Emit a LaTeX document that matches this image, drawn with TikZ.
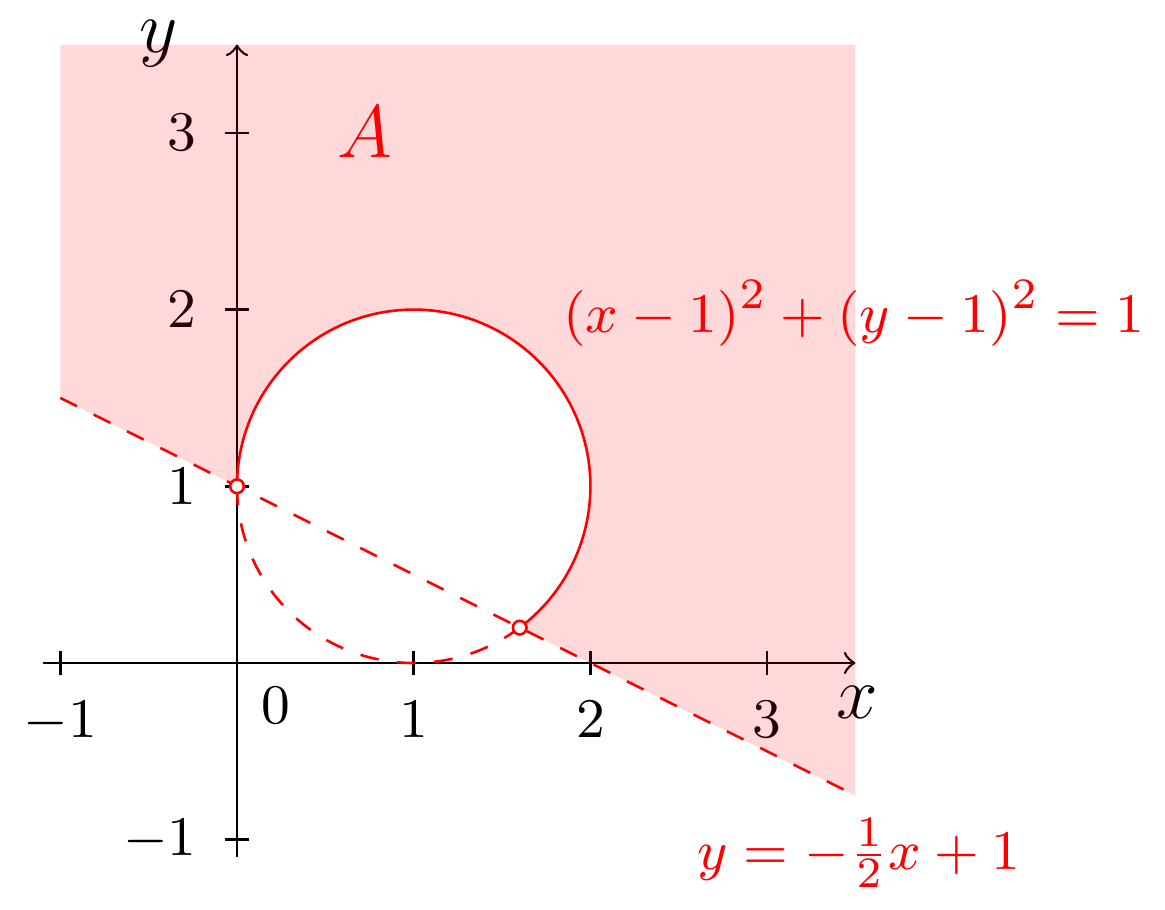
\documentclass[tikz,border=0pt]{standalone}
\begin{document}
\begin{tikzpicture}[x=1cm,y=1cm,
  axis/.style={black, line width=0.42pt},
  tickmark/.style={black, line width=0.42pt},
  ticklab/.style={font=\fontsize{9.3}{11}\selectfont, inner sep=0pt},
  axlab/.style={font=\fontsize{12}{14}\selectfont, inner sep=0pt},
  curve/.style={red, line width=0.42pt},
  dashcurve/.style={red, line width=0.42pt, dashed},
  dot/.style={circle, draw=red, fill=white, line width=0.42pt, minimum size=2.2pt, inner sep=0pt},
  eqlab/.style={red, font=\fontsize{9.3}{11}\selectfont, inner sep=0pt},
  region/.style={fill=red, fill opacity=0.15, even odd rule}]
\useasboundingbox (-1.3413,-1.3978) rectangle (5.2518,3.7521);

% axes
\coordinate (xs) at (-1.1,0);
\coordinate (xe) at (3.5,0);
\coordinate (ys) at (0,-1.1);
\coordinate (ye) at (0,3.5);
\draw[axis,->] (xs) -- (xe);
\draw[axis,->] (ys) -- (ye);
\foreach \t in {-1,1,2,3} {
  \draw[tickmark] (\t,-0.07) -- (\t,0.07);
  \draw[tickmark] (-0.07,\t) -- (0.07,\t);
}
\node[ticklab, anchor=north] (xm1) at (-1,-0.21) {$-1$};
\node[ticklab, anchor=north] (x1) at (1,-0.21) {$1$};
\node[ticklab, anchor=north] (x2) at (2,-0.21) {$2$};
\node[ticklab, anchor=north] (x3) at (3,-0.21) {$3$};
\node[ticklab] (x0) at (0.221,-0.243) {$0$};
\node[ticklab, anchor=east] (ym1) at (-0.222,-1) {$-1$};
\node[ticklab, anchor=east] (y1) at (-0.222,1) {$1$};
\node[ticklab, anchor=east] (y2) at (-0.222,2) {$2$};
\node[ticklab, anchor=east] (y3) at (-0.222,3) {$3$};
\node[axlab] (xl) at (3.509,-0.221) {$x$};
\node[axlab] (yl) at (-0.441,3.506) {$y$};

% region A
\coordinate (L1) at (-1,1.5);
\coordinate (L2) at (3.5,-0.75);
\coordinate (TL) at (-1,3.5);
\coordinate (TR) at (3.5,3.5);
\coordinate (P) at (0,1);
\coordinate (Q) at (1.6,0.2);
\fill[region] (L1) -- (TL) -- (TR) -- (L2) -- cycle
  (P) arc[start angle=180, end angle=-53.1301, radius=1] -- cycle;

% curves
\draw[curve] (P) arc[start angle=180, end angle=-53.1301, radius=1];
\draw[dashcurve] (Q) arc[start angle=-53.1301, end angle=-180, radius=1];
\draw[dashcurve] (L1) -- (L2);
\node[dot] (P1) at (P) {};
\node[dot] (P2) at (Q) {};

% labels
\node[red, axlab] (A) at (0.724,3.005) {$A$};
\node[eqlab, anchor=base west] (ceq) at (1.84,1.87) {$(x-1)^2+(y-1)^2=1$};
\node[eqlab, anchor=base west] (leq) at (2.6,-1.166) {$y=-\frac{1}{2}x+1$};
\end{tikzpicture}
\end{document}
